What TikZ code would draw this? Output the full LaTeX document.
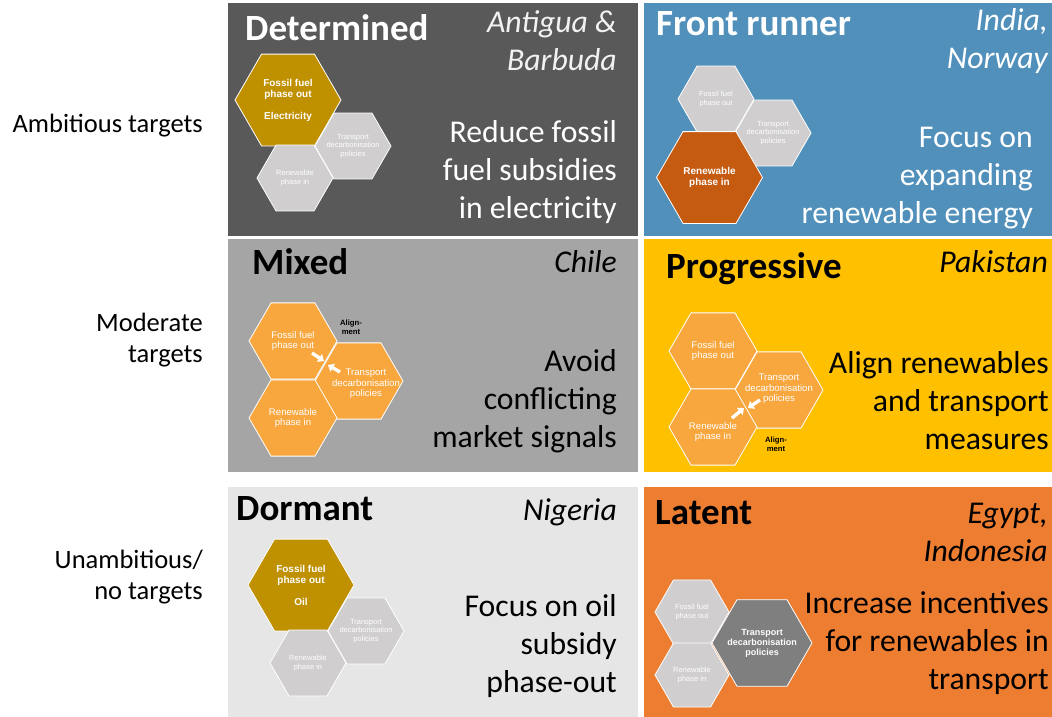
\documentclass[tikz,border=0pt]{standalone}
\usepackage{fontspec}
\setmainfont{Carlito}
\newfontfamily\hexfont{Liberation Sans}
\usetikzlibrary{shapes.geometric,arrows.meta}

\definecolor{pDark}{HTML}{595959}
\definecolor{pBlue}{HTML}{5190BB}
\definecolor{pGray}{HTML}{A5A5A5}
\definecolor{pGold}{HTML}{FFC000}
\definecolor{pLight}{HTML}{E7E6E6}
\definecolor{pOrange}{HTML}{ED7D31}
\definecolor{hGold}{HTML}{BF9000}
\definecolor{hGray}{HTML}{D0CECE}
\definecolor{hRust}{HTML}{C55A11}
\definecolor{hAmber}{HTML}{F8A73E}
\definecolor{hSlate}{HTML}{7F7F7F}

\tikzset{
  panel/.style={anchor=north west, inner sep=0pt, outer sep=0pt},
  hex/.style={regular polygon, regular polygon sides=6, minimum size=#1,
              inner sep=0pt, draw=white, line width=0.8pt},
  hexsmall/.style={text=white, align=center, inner sep=0pt,
              font=\hexfont\fontsize{7.5}{8.5}\selectfont},
  hexmid/.style={text=white, align=center, inner sep=0pt,
              font=\hexfont\fontsize{9.6}{10.5}\selectfont},
  hexbold/.style={text=white, align=center, inner sep=0pt,
              font=\hexfont\bfseries\fontsize{10}{11}\selectfont},
  hexboldsm/.style={text=white, align=center, inner sep=0pt,
              font=\hexfont\bfseries\fontsize{9}{10}\selectfont},
  aligntext/.style={text=black, align=center, inner sep=0pt,
              font=\hexfont\bfseries\fontsize{7.7}{9.5}\selectfont},
  title/.style={anchor=west, inner sep=0pt, font=\bfseries\fontsize{37}{44}\selectfont},
  country/.style={anchor=east, inner sep=0pt, align=right,
              font=\itshape\fontsize{31.7}{38}\selectfont},
  body/.style={anchor=east, inner sep=0pt, align=right,
              font=\fontsize{31.7}{38}\selectfont},
  side/.style={anchor=east, inner sep=0pt, align=right,
              font=\fontsize{26.5}{31}\selectfont},
  alignarrow/.style={white, line width=3.4pt, -{Triangle[width=9pt,length=5.5pt]}},
}

\begin{document}
\begin{tikzpicture}[x=1pt,y=-1pt]
\useasboundingbox (0,0) rectangle (1052,717);
\fill[white] (0,0) rectangle (1052,717);

% quadrant backgrounds
\node[panel, fill=pDark,   minimum width=410pt, minimum height=233pt] (pDet)  at (228,3)   {};
\node[panel, fill=pBlue,   minimum width=408pt, minimum height=233pt] (pFr)   at (644,3)   {};
\node[panel, fill=pGray,   minimum width=410pt, minimum height=233pt] (pMix)  at (228,239) {};
\node[panel, fill=pGold,   minimum width=408pt, minimum height=233pt] (pProg) at (644,239) {};
\node[panel, fill=pLight,  minimum width=410pt, minimum height=230pt] (pDor)  at (228,487) {};
\node[panel, fill=pOrange, minimum width=408pt, minimum height=230pt] (pLat)  at (644,487) {};

% row labels
\node[side] (sAmb) at (203,126) {Ambitious targets};
\node[side] (sMod) at (203,340) {Moderate\\targets};
\node[side] (sUn)  at (203,577) {Unambitious/\\no targets};

% ---- Determined
\node[title, text=white] (tDet) at (245,28) {Determined};
\node[country, text=white!95!black] (cDet) at (617,41) {Antigua \&\\Barbuda};
\node[body, text=white] (bDet) at (617,172) {Reduce fossil\\fuel subsidies\\in electricity};
\node[hex=106pt, fill=hGold] (dF) at (288,100) {};
\node[hex=76pt, fill=hGray]  (dT) at (353,146) {};
\node[hex=76pt, fill=hGray]  (dR) at (295,178) {};
\node[hexbold] (dFt) at (dF) {Fossil fuel\\phase out\\[11pt]Electricity};
\node[hexsmall] (dTt) at (dT) {Transport\\decarbonisation\\policies};
\node[hexsmall] (dRt) at (dR) {Renewable\\phase in};

% ---- Front runner
\node[title, text=white] (tFr) at (656,24) {Front runner};
\node[country, text=white] (cFr) at (1048,41) {India,\\Norway};
\node[body, text=white] (bFr) at (1033,178) {Focus on\\expanding\\renewable energy};
\node[hex=76pt, fill=hGray]  (fF) at (716,99) {};
\node[hex=76pt, fill=hGray]  (fT) at (773,133) {};
\node[hex=106pt, fill=hRust] (fR) at (709.5,177.5) {};
\node[hexsmall] (fFt) at (fF) {Fossil fuel\\phase out};
\node[hexsmall] (fTt) at (fT) {Transport\\decarbonisation\\policies};
\node[hexbold]  (fRt) at (fR) {Renewable\\phase in};

% ---- Mixed
\node[title, text=black] (tMix) at (252,262) {Mixed};
\node[country, text=black] (cMix) at (617,262) {Chile};
\node[body, text=black] (bMix) at (617,401) {Avoid\\conflicting\\market signals};
\node[hex=88pt, fill=hAmber] (mF) at (293,341) {};
\node[hex=88pt, fill=hAmber] (mT) at (359,381) {};
\node[hex=88pt, fill=hAmber] (mR) at (293,418) {};
\node[hexmid] (mFt) at (mF) {Fossil fuel\\phase out};
\node[hexmid] (mTt) at (366,384) {Transport\\decarbonisation\\policies};
\node[hexmid] (mRt) at (mR) {Renewable\\phase in};
\node[aligntext] (mA) at (351,327) {Align-\\ment};
\coordinate (mA1s) at (312,353);
\coordinate (mA1e) at (324,361);
\coordinate (mA2s) at (340,372);
\coordinate (mA2e) at (328,365);
\draw[alignarrow] (mA1s) -- (mA1e);
\draw[alignarrow] (mA2s) -- (mA2e);

% ---- Progressive
\node[title, text=black] (tProg) at (666,269) {Progressive};
\node[country, text=black] (cProg) at (1048,262) {Pakistan};
\node[body, text=black] (bProg) at (1049,401) {Align renewables\\and transport\\measures};
\node[hex=88pt, fill=hAmber] (gF) at (713,351) {};
\node[hex=88pt, fill=hAmber] (gT) at (779,390) {};
\node[hex=88pt, fill=hAmber] (gR) at (713,427) {};
\node[hexmid] (gFt) at (gF) {Fossil fuel\\phase out};
\node[hexmid] (gTt) at (779,389) {Transport\\decarbonisation\\policies};
\node[hexmid] (gRt) at (713,432) {Renewable\\phase in};
\node[aligntext] (gA) at (776,444) {Align-\\ment};
\coordinate (gA1s) at (732,418);
\coordinate (gA1e) at (744,408);
\coordinate (gA2s) at (760,400);
\coordinate (gA2e) at (748,408);
\draw[alignarrow] (gA1s) -- (gA1e);
\draw[alignarrow] (gA2s) -- (gA2e);

% ---- Dormant
\node[title, text=black] (tDor) at (236,509) {Dormant};
\node[country, text=black] (cDor) at (617,512) {Nigeria};
\node[body, text=black] (bDor) at (617,646) {Focus on oil\\subsidy\\phase-out};
\node[hex=106pt, fill=hGold] (oF) at (301,585) {};
\node[hex=76pt, fill=hGray]  (oT) at (366,631) {};
\node[hex=76pt, fill=hGray]  (oR) at (308,663) {};
\node[hexbold] (oFt) at (oF) {Fossil fuel\\phase out\\[11pt]Oil};
\node[hexsmall] (oTt) at (oT) {Transport\\decarbonisation\\policies};
\node[hexsmall] (oRt) at (oR) {Renewable\\phase in};

% ---- Latent
\node[title, text=black] (tLat) at (655,513) {Latent};
\node[country, text=black] (cLat) at (1048,532) {Egypt,\\Indonesia};
\node[body, text=black] (bLat) at (1049,643) {Increase incentives\\for renewables in\\transport};
\node[hex=74pt, fill=hGray]   (lF) at (692,612) {};
\node[hex=74pt, fill=hGray]   (lR) at (692,675) {};
\node[hex=100pt, fill=hSlate] (lT) at (762,643) {};
\node[hexsmall] (lFt) at (lF) {Fossil fuel\\phase out};
\node[hexsmall] (lRt) at (lR) {Renewable\\phase in};
\node[hexboldsm] (lTt) at (lT) {Transport\\decarbonisation\\policies};
\end{tikzpicture}
\end{document}
